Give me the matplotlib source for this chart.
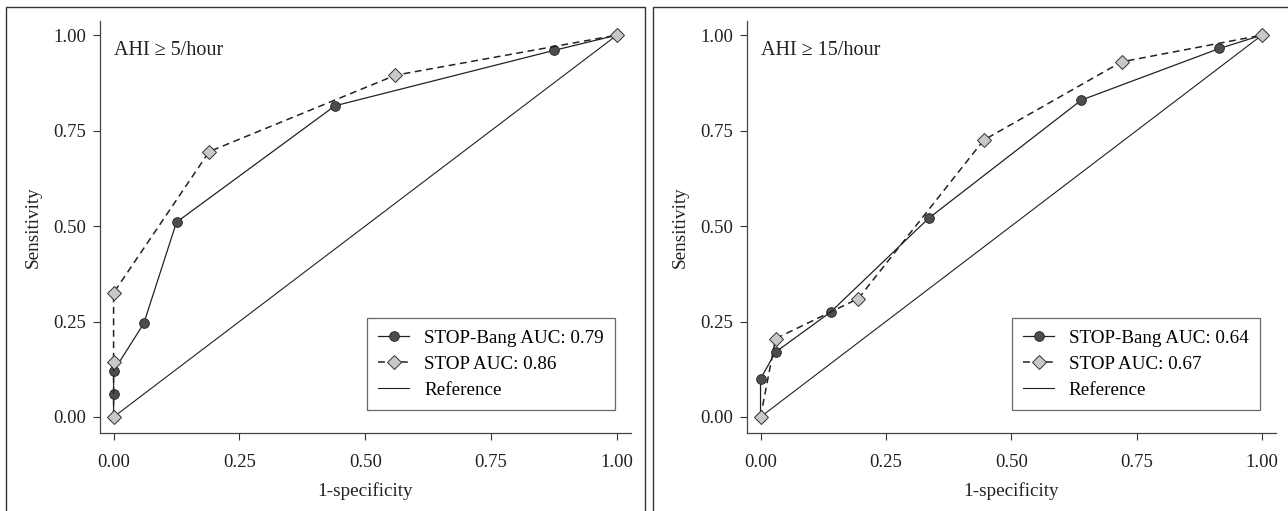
import matplotlib.pyplot as plt
from matplotlib.patches import Rectangle

plt.rcParams['font.family'] = ['Liberation Serif', 'DejaVu Serif']

# AHI >= 5/hour
bang5_x = [0, 0, 0, 0.06, 0.125, 0.44, 0.875, 1.0]
bang5_y = [0, 0.06, 0.12, 0.245, 0.51, 0.815, 0.96, 1.0]
stop5_x = [0, 0, 0, 0.19, 0.56, 1.0]
stop5_y = [0, 0.145, 0.325, 0.695, 0.895, 1.0]

# AHI >= 15/hour
bang15_x = [0, 0, 0.03, 0.14, 0.335, 0.64, 0.915, 1.0]
bang15_y = [0, 0.10, 0.17, 0.275, 0.52, 0.83, 0.965, 1.0]
stop15_x = [0, 0.03, 0.195, 0.445, 0.72, 1.0]
stop15_y = [0, 0.205, 0.31, 0.725, 0.93, 1.0]

panels = [
    ("AHI \u2265 5/hour", bang5_x, bang5_y, stop5_x, stop5_y, "0.79", "0.86"),
    ("AHI \u2265 15/hour", bang15_x, bang15_y, stop15_x, stop15_y, "0.64", "0.67"),
]
ticks = [0, 0.25, 0.5, 0.75, 1.0]
tick_labels = ["0.00", "0.25", "0.50", "0.75", "1.00"]

W, H = 1288, 511
fig = plt.figure(figsize=(W / 100, H / 100), dpi=100)

# panel frames
fig.patches.append(Rectangle((6 / W, -0.1), (645 - 6) / W, 1.1 - 7 / H,
                             transform=fig.transFigure, fill=False,
                             edgecolor='#333333', lw=1.0))
fig.patches.append(Rectangle((653 / W, -0.1), 1.0, 1.1 - 7 / H,
                             transform=fig.transFigure, fill=False,
                             edgecolor='#333333', lw=1.0))

axes_pos = [
    [100 / W, 1 - 433 / H, 531 / W, 412 / H],
    [747 / W, 1 - 433 / H, 529 / W, 412 / H],
]

for pos, (title, bx, by, sx, sy, auc_b, auc_s) in zip(axes_pos, panels):
    ax = fig.add_axes(pos)
    ax.plot([0, 1], [0, 1], color='#222222', lw=0.8, label='Reference', zorder=1)
    ax.plot(bx, by, color='#222222', lw=0.9, marker='o', markersize=7,
            markerfacecolor='#4d4d4d', markeredgecolor='#222222', markeredgewidth=0.6,
            label=f'STOP-Bang AUC: {auc_b}', zorder=2)
    ax.plot(sx, sy, color='#222222', lw=1.1, ls=(0, (4.5, 3)), marker='D', markersize=7.5,
            markerfacecolor='#c8c8c8', markeredgecolor='#333333', markeredgewidth=0.7,
            label=f'STOP AUC: {auc_s}', zorder=3)

    ax.set_xlim(-0.027, 1.028)
    ax.set_ylim(-0.042, 1.037)
    ax.set_xticks(ticks)
    ax.set_xticklabels(tick_labels)
    ax.set_yticks(ticks)
    ax.set_yticklabels(tick_labels)
    ax.tick_params(direction='out', length=5, width=0.8, colors='#333333',
                   labelsize=13.5, labelcolor='#222222')
    ax.tick_params(axis='x', pad=10)
    ax.tick_params(axis='y', pad=5)
    for s in ['top', 'right']:
        ax.spines[s].set_visible(False)
    for s in ['left', 'bottom']:
        ax.spines[s].set_color('#444444')
        ax.spines[s].set_linewidth(0.9)

    ax.set_xlabel('1-specificity', fontsize=13.8, color='#222222', labelpad=8)
    ax.set_ylabel('Sensitivity', fontsize=13.8, color='#222222', labelpad=8)
    ax.text(0.0, 0.96, title, fontsize=14.5, color='#222222', va='center', ha='left',
            transform=ax.transData)

    h, l = ax.get_legend_handles_labels()
    leg = ax.legend([h[1], h[2], h[0]], [l[1], l[2], l[0]], loc='lower right',
                    bbox_to_anchor=(0.97, 0.055), borderaxespad=0, fontsize=13.7,
                    frameon=True, fancybox=False, handlelength=1.6,
                    borderpad=0.6, labelspacing=0.45, handletextpad=0.8)
    leg.get_frame().set_edgecolor('#444444')
    leg.get_frame().set_linewidth(0.9)

fig.savefig('out.png', dpi=100)
